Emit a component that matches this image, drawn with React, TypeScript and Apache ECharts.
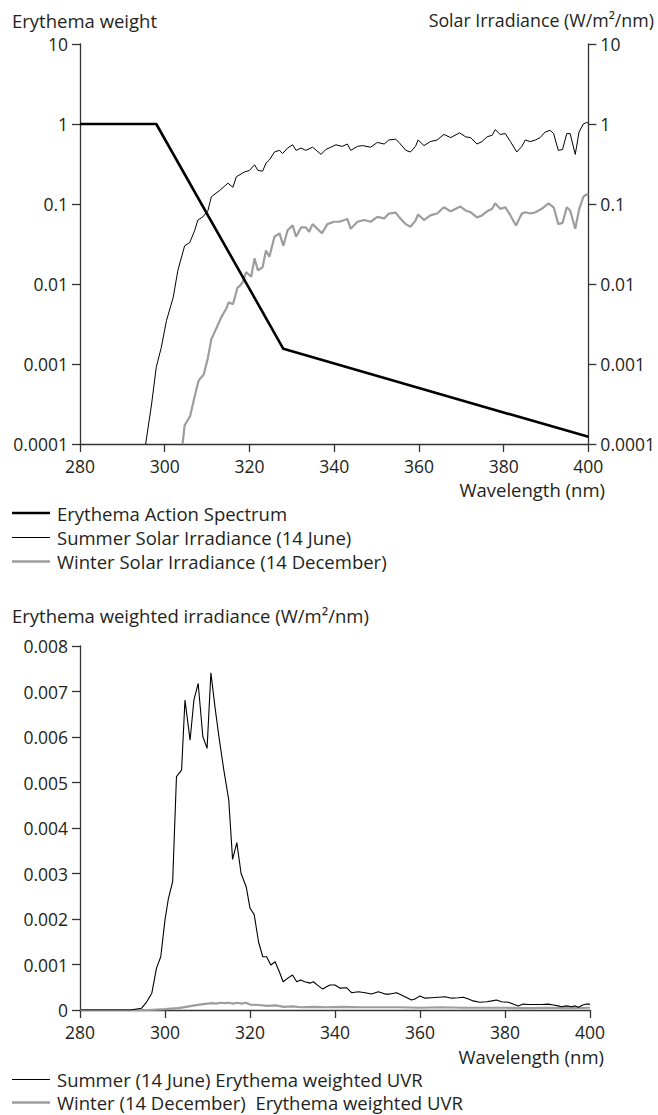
import React, { useEffect, useRef } from "react";
import * as echarts from "echarts";

const FONT = "'Open Sans', 'Noto Sans', sans-serif";
const TEXT = "#231f20";
const AXIS = "#333";
const TICK_FS = 17.5;
const TITLE_FS = 18.5;

// ---------- Top panel (log scale) ----------
const ACTION_WL = [280, 298, 328, 360, 400];
const ACTION_W = [1, 1, 0.00155, 0.0005, 0.000123];

const SUMMER_WL = [295.5, 296.9, 298.0, 299.2, 300.4, 302.0, 303.1, 304.7, 305.9, 307.1, 307.8, 309.0, 310.2, 311.0, 313.0, 314.9, 316.1, 316.9, 318.8, 320.0, 321.2, 322.0, 323.1, 323.9, 324.7, 325.9, 327.1, 327.8, 329.0, 330.2, 331.0, 332.2, 333.3, 334.9, 336.9, 338.0, 340.4, 341.9, 343.1, 343.9, 345.5, 346.7, 348.6, 350.2, 351.8, 352.9, 354.5, 355.3, 356.9, 358.0, 359.2, 359.8, 361.2, 362.7, 364.3, 365.9, 367.5, 369.6, 371.0, 372.2, 373.7, 374.9, 376.1, 377.3, 378.0, 379.2, 380.4, 381.6, 383.1, 384.3, 385.1, 386.3, 387.5, 388.6, 389.8, 391.0, 391.8, 392.9, 393.9, 394.9, 395.7, 396.9, 397.8, 398.8, 399.6, 400];
const SUMMER_IRR = [0.0001, 0.000316, 0.00091, 0.00162, 0.00347, 0.0068, 0.0148, 0.030, 0.033, 0.047, 0.063, 0.069, 0.083, 0.123, 0.148, 0.182, 0.162, 0.219, 0.251, 0.263, 0.309, 0.263, 0.257, 0.324, 0.355, 0.447, 0.468, 0.427, 0.501, 0.550, 0.468, 0.501, 0.468, 0.513, 0.417, 0.479, 0.550, 0.525, 0.562, 0.468, 0.525, 0.537, 0.513, 0.589, 0.562, 0.631, 0.646, 0.589, 0.468, 0.447, 0.525, 0.631, 0.537, 0.603, 0.631, 0.741, 0.676, 0.776, 0.692, 0.676, 0.562, 0.603, 0.692, 0.724, 0.851, 0.741, 0.759, 0.603, 0.447, 0.525, 0.631, 0.603, 0.631, 0.676, 0.794, 0.832, 0.759, 0.468, 0.479, 0.759, 0.759, 0.417, 0.794, 1.0, 1.047, 1.023];

const WINTER_WL = [304.2, 304.7, 306.0, 307.1, 308.0, 309.2, 310.2, 311.0, 312.3, 313.3, 314.5, 315.1, 316.1, 317.2, 317.6, 318.4, 319.2, 320.4, 321.2, 322.0, 323.1, 323.9, 324.7, 325.9, 327.1, 328.0, 329.0, 330.2, 331.0, 332.2, 333.3, 334.1, 334.9, 335.7, 337.1, 338.4, 340.0, 341.2, 343.1, 343.9, 345.5, 347.1, 348.6, 350.2, 351.8, 352.9, 354.5, 355.3, 356.9, 358.0, 359.2, 359.8, 361.2, 362.7, 364.3, 365.9, 367.5, 369.8, 371.0, 372.2, 373.7, 374.9, 376.1, 377.3, 378.0, 379.2, 380.4, 381.6, 382.9, 384.3, 385.1, 386.3, 387.5, 389.0, 390.6, 391.8, 392.9, 393.9, 394.9, 395.7, 396.9, 397.8, 398.8, 399.6, 400];
const WINTER_IRR = [0.0001, 0.00017, 0.000224, 0.0004, 0.00062, 0.00074, 0.0012, 0.00204, 0.00288, 0.0038, 0.0049, 0.0059, 0.0056, 0.0091, 0.0093, 0.0105, 0.0141, 0.0123, 0.0209, 0.0148, 0.0162, 0.0263, 0.0219, 0.039, 0.043, 0.030, 0.047, 0.054, 0.039, 0.051, 0.051, 0.045, 0.056, 0.051, 0.043, 0.056, 0.060, 0.060, 0.065, 0.049, 0.060, 0.063, 0.060, 0.069, 0.066, 0.076, 0.078, 0.069, 0.056, 0.052, 0.062, 0.074, 0.063, 0.072, 0.076, 0.091, 0.081, 0.093, 0.083, 0.079, 0.068, 0.072, 0.081, 0.087, 0.102, 0.087, 0.091, 0.072, 0.054, 0.076, 0.079, 0.076, 0.079, 0.087, 0.102, 0.091, 0.056, 0.058, 0.091, 0.083, 0.049, 0.085, 0.123, 0.132, 0.129];

// ---------- Bottom panel (linear) ----------
const SUMMER_UVR_WL = [280, 291.8, 294.5, 295.7, 296.9, 298.0, 299.0, 300.0, 300.8, 301.8, 302.7, 303.9, 304.7, 305.9, 306.8, 307.8, 308.9, 309.9, 310.8, 311.8, 312.8, 313.9, 315.0, 315.9, 316.9, 317.9, 319.1, 320.0, 321.0, 322.0, 323.0, 323.9, 324.9, 325.9, 326.9, 327.8, 328.9, 330.0, 331.0, 331.9, 332.9, 334.1, 334.9, 336.1, 337.1, 338.0, 338.8, 340.0, 341.2, 342.7, 343.9, 345.5, 347.1, 348.6, 350.2, 351.8, 352.9, 354.5, 356.1, 358.0, 358.8, 360.0, 361.2, 362.7, 364.3, 365.9, 367.5, 369.0, 370.2, 371.4, 372.5, 374.1, 375.7, 376.9, 378.0, 379.2, 380.8, 381.9, 383.1, 384.3, 385.5, 387.1, 388.6, 390.2, 391.4, 392.5, 393.3, 394.5, 395.7, 396.5, 397.3, 398.3, 399.2, 400];
const SUMMER_UVR = [0, 0, 0.00004, 0.00018, 0.00037, 0.00092, 0.00117, 0.00198, 0.00245, 0.00282, 0.00513, 0.00527, 0.00681, 0.00593, 0.00681, 0.00718, 0.00601, 0.00575, 0.00741, 0.00663, 0.00593, 0.00524, 0.00462, 0.00331, 0.00368, 0.00300, 0.00271, 0.00224, 0.00209, 0.00150, 0.00117, 0.00117, 0.00099, 0.00106, 0.00084, 0.00062, 0.00070, 0.00077, 0.00062, 0.00066, 0.00062, 0.00059, 0.00062, 0.00053, 0.00046, 0.00051, 0.00055, 0.00055, 0.00048, 0.00049, 0.00038, 0.00040, 0.00038, 0.00035, 0.00040, 0.00035, 0.00035, 0.00038, 0.00031, 0.00022, 0.00024, 0.00031, 0.00026, 0.00027, 0.00028, 0.00029, 0.00026, 0.00027, 0.00028, 0.00024, 0.00020, 0.00017, 0.00018, 0.00020, 0.00022, 0.00018, 0.00017, 0.00013, 0.00009, 0.00013, 0.00012, 0.00012, 0.00012, 0.00013, 0.00011, 0.00009, 0.00007, 0.00009, 0.00007, 0.00009, 0.00006, 0.00011, 0.00013, 0.00013];

const WINTER_UVR_WL = [280, 296, 300, 303, 305, 307, 309, 311, 312, 313, 314, 315, 316, 317, 318, 319, 320, 322, 324, 326, 328, 330, 332, 335, 338, 342, 346, 350, 355, 360, 365, 370, 375, 380, 385, 390, 395, 400];
const WINTER_UVR = [0, 0, 0.00002, 0.00004, 0.00007, 0.0001, 0.00013, 0.00015, 0.00014, 0.00016, 0.00015, 0.00016, 0.00014, 0.00016, 0.00014, 0.00016, 0.00012, 0.00011, 0.00009, 0.0001, 0.00007, 0.00008, 0.00006, 0.00007, 0.00006, 0.00007, 0.00006, 0.00006, 0.00006, 0.00005, 0.00006, 0.00005, 0.00005, 0.00005, 0.00004, 0.00005, 0.00004, 0.00005];

const TOP_LEGEND = [
  "Erythema Action Spectrum",
  "Summer Solar Irradiance (14 June)",
  "Winter Solar Irradiance (14 December)",
];
const BOTTOM_LEGEND = [
  "Summer (14 June) Erythema weighted UVR",
  "Winter (14 December)  Erythema weighted UVR",
];

const pairs = (xs: number[], ys: number[]) => xs.map((x, i) => [x, ys[i]]);

const BLACK = "#000";
const GREY = "#9d9d9d";

const labelStyle = { fontSize: TICK_FS, color: TEXT, fontFamily: FONT };

function xAxis(gridIndex: number) {
  return {
    type: "value",
    gridIndex,
    min: 280,
    max: 400,
    interval: 20,
    axisLine: { show: true, onZero: false, lineStyle: { color: AXIS, width: 1.3 } },
    axisTick: { show: true, inside: false, length: 8, lineStyle: { color: AXIS, width: 1.3 } },
    axisLabel: { ...labelStyle, margin: 13 },
    splitLine: { show: false },
  };
}

function logY(position: "left" | "right") {
  return {
    type: "log",
    logBase: 10,
    gridIndex: 0,
    position,
    min: 0.0001,
    max: 10,
    axisLine: { show: true, lineStyle: { color: AXIS, width: 1.3 } },
    axisTick: { show: true, inside: false, length: 8, lineStyle: { color: AXIS, width: 1.3 } },
    axisLabel: {
      ...labelStyle,
      margin: 12,
      formatter: (v: number) => String(Number(v.toPrecision(3))),
    },
    splitLine: { show: false },
  };
}

function txt(text: string, x: number, y: number, align = "left", fontSize = TITLE_FS) {
  return {
    type: "text",
    x,
    y,
    style: { text, fontSize, fontFamily: FONT, fill: TEXT, align, verticalAlign: "middle" },
  };
}

function legendRow(label: string, y: number, color: string, width: number) {
  return [
    { type: "line", shape: { x1: 12, y1: y, x2: 50, y2: y }, style: { stroke: color, lineWidth: width } },
    txt(label, 57, y),
  ];
}

export default function App() {
  const ref = useRef<HTMLDivElement>(null);
  useEffect(() => {
    const chart = echarts.init(ref.current!, null, { renderer: "svg" });
    const option: any = {
      animation: false,
      backgroundColor: "#fff",
      grid: [
        { left: 80, top: 44, width: 510, height: 400 },
        { left: 80, top: 646, width: 510, height: 364 },
      ],
      xAxis: [xAxis(0), xAxis(1)],
      yAxis: [
        logY("left"),
        logY("right"),
        {
          type: "value",
          gridIndex: 1,
          min: 0,
          max: 0.008,
          interval: 0.001,
          axisLine: { show: true, lineStyle: { color: AXIS, width: 1.3 } },
          axisTick: { show: true, inside: false, length: 8, lineStyle: { color: AXIS, width: 1.3 } },
          axisLabel: {
            ...labelStyle,
            margin: 12,
            formatter: (v: number) => (v === 0 ? "0" : v.toFixed(3)),
          },
          splitLine: { show: false },
        },
      ],
      series: [
        {
          name: TOP_LEGEND[1],
          type: "line",
          xAxisIndex: 0,
          yAxisIndex: 1,
          data: pairs(SUMMER_WL, SUMMER_IRR),
          symbol: "none",
          lineStyle: { color: BLACK, width: 1 },
          z: 3,
        },
        {
          name: TOP_LEGEND[2],
          type: "line",
          xAxisIndex: 0,
          yAxisIndex: 1,
          data: pairs(WINTER_WL, WINTER_IRR),
          symbol: "none",
          lineStyle: { color: GREY, width: 2.2 },
          z: 2,
        },
        {
          name: TOP_LEGEND[0],
          type: "line",
          xAxisIndex: 0,
          yAxisIndex: 0,
          data: pairs(ACTION_WL, ACTION_W),
          symbol: "none",
          lineStyle: { color: BLACK, width: 2.6 },
          z: 4,
        },
        {
          name: BOTTOM_LEGEND[1],
          type: "line",
          xAxisIndex: 1,
          yAxisIndex: 2,
          data: pairs(WINTER_UVR_WL, WINTER_UVR),
          symbol: "none",
          lineStyle: { color: GREY, width: 2.2 },
          z: 2,
        },
        {
          name: BOTTOM_LEGEND[0],
          type: "line",
          xAxisIndex: 1,
          yAxisIndex: 2,
          data: pairs(SUMMER_UVR_WL, SUMMER_UVR),
          symbol: "none",
          lineStyle: { color: BLACK, width: 1.1 },
          z: 3,
        },
      ],
      graphic: [
        txt("Erythema weight", 12, 20),
        txt("Solar Irradiance (W/m²/nm)", 654, 20, "right", 17.8),
        txt("Wavelength (nm)", 605, 489, "right"),
        ...legendRow(TOP_LEGEND[0], 513, BLACK, 2.6),
        ...legendRow(TOP_LEGEND[1], 537.5, BLACK, 1.1),
        ...legendRow(TOP_LEGEND[2], 561.5, GREY, 2.4),
        txt("Erythema weighted irradiance (W/m²/nm)", 12, 615),
        txt("Wavelength (nm)", 604, 1056, "right"),
        ...legendRow(BOTTOM_LEGEND[0], 1079.5, BLACK, 1.1),
        ...legendRow(BOTTOM_LEGEND[1], 1102.5, GREY, 2.4),
      ],
    };
    chart.setOption(option);
    return () => chart.dispose();
  }, []);
  return (
    <div
      ref={ref}
      style={{ position: "absolute", left: 0, top: 0, width: 658, height: 1115, background: "#fff" }}
    />
  );
}
